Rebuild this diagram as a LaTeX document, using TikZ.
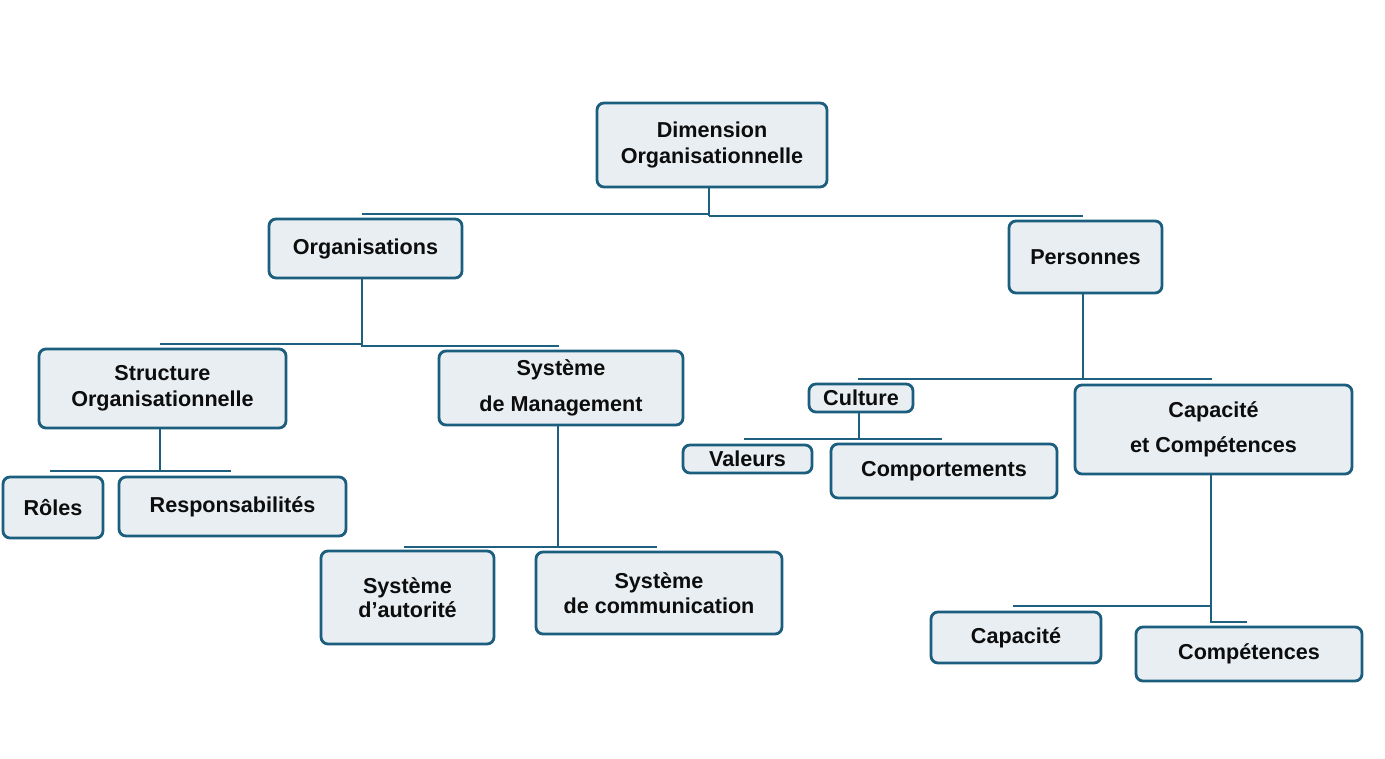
\documentclass[tikz,border=0pt]{standalone}
\usepackage{fontspec}
\setmainfont{Liberation Sans}
\definecolor{bordc}{HTML}{1B5E7E}
\definecolor{linec}{HTML}{1F5F7F}
\definecolor{fillc}{HTML}{E8EEF2}
\definecolor{txtc}{HTML}{0D0D0D}
\tikzset{
  box/.style={draw=bordc, line width=1.4pt, fill=fillc, rounded corners=3.5pt,
    inner sep=0pt, align=center, text=txtc,
    font=\fontsize{10.8}{13}\selectfont\bfseries},
  conn/.style={draw=linec, line width=1pt}
}
\newcommand{\bx}[6]{\node[box, minimum width=#4*0.5pt, minimum height=#5*0.5pt] (#1) at (#2,#3) {#6};}
\begin{document}
\begin{tikzpicture}[x=0.5pt,y=-0.5pt]
\useasboundingbox (0,0) rectangle (1385,759);
\fill[white] (0,0) rectangle (1385,759);
% boxes
\bx{dim}{712}{145}{230}{84}{Dimension\\Organisationnelle}
\bx{org}{365.5}{248.5}{193}{59}{Organisations}
\bx{pers}{1085.5}{257}{153}{72}{Personnes}
\bx{struct}{162.5}{388.5}{247}{79}{Structure\\Organisationnelle}
\bx{sdm}{561}{388}{244}{74}{Système\\[5pt]de Management}
\bx{cult}{861}{398}{104}{28}{Culture}
\bx{capc}{1213.5}{429.5}{277}{89}{Capacité\\[4.5pt]et Compétences}
\bx{val}{747.5}{459}{129}{28}{Valeurs}
\bx{comp}{944}{471}{226}{54}{Comportements}
\bx{roles}{53}{507.5}{100}{61}{Rôles}
\bx{resp}{232.5}{506.5}{227}{59}{Responsabilités}
\bx{aut}{407.5}{597.5}{173}{93}{Système\\[-1pt]d’autorité}
\bx{com}{659}{593}{246}{82}{Système\\[-0.5pt]de communication}
\bx{cap}{1016}{637.5}{170}{51}{Capacité}
\bx{cpt}{1249}{654}{226}{54}{Compétences}
% bar coordinates
\coordinate (b1j) at (709,214);
\coordinate (b1l) at (362,214);
\coordinate (b1k) at (709,216);
\coordinate (b1r) at (1083,216);
\coordinate (b2j) at (362,344);
\coordinate (b2l) at (160,344);
\coordinate (b2k) at (362,346);
\coordinate (b2r) at (559,346);
\coordinate (b3j) at (1083,379);
\coordinate (b3l) at (858,379);
\coordinate (b3r) at (1212,379);
\coordinate (b4j) at (160,471);
\coordinate (b4l) at (50,471);
\coordinate (b4r) at (231,471);
\coordinate (b5j) at (558,547);
\coordinate (b5l) at (404,547);
\coordinate (b5r) at (657,547);
\coordinate (b6j) at (859,439);
\coordinate (b6l) at (744,439);
\coordinate (b6r) at (942,439);
\coordinate (b7j) at (1211,606);
\coordinate (b7l) at (1013,606);
\coordinate (b7d) at (1211,622);
\coordinate (b7r) at (1247,622);
% connectors
\draw[conn] ([xshift=-1.5pt]dim.south) -- (b1k) -- (b1j);
\draw[conn] (b1l) -- (b1j);
\draw[conn] (b1k) -- (b1r);
\draw[conn] ([xshift=-1.75pt]org.south) -- (b2j) -- (b2l);
\draw[conn] (b2j) -- (b2k) -- (b2r);
\draw[conn] ([xshift=-1.25pt]pers.south) -- (b3j);
\draw[conn] (b3l) -- (b3r);
\draw[conn] ([xshift=-1.25pt]struct.south) -- (b4j);
\draw[conn] (b4l) -- (b4r);
\draw[conn] ([xshift=-1.5pt]sdm.south) -- (b5j);
\draw[conn] (b5l) -- (b5r);
\draw[conn] ([xshift=-1pt]cult.south) -- (b6j);
\draw[conn] (b6l) -- (b6r);
\draw[conn] ([xshift=-1.25pt]capc.south) -- (b7j) -- (b7l);
\draw[conn] (b7j) -- (b7d) -- (b7r);
\end{tikzpicture}
\end{document}
